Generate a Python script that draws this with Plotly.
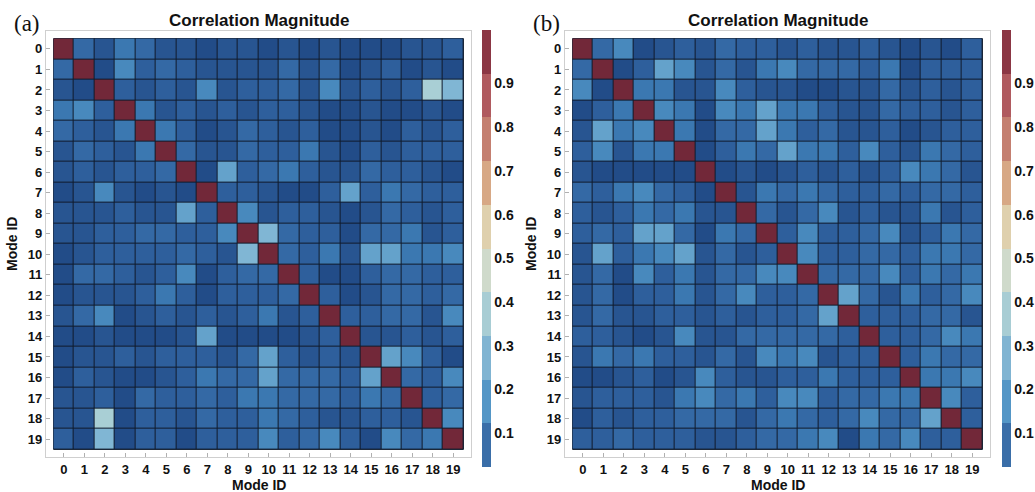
import plotly.graph_objects as go

W, H = 1035, 492

mode_ids = list(range(20))
tick_labels = [str(i) for i in mode_ids]
colorbar_ticks = [0.1, 0.2, 0.3, 0.4, 0.5, 0.6, 0.7, 0.8, 0.9]
panel_labels = ["(a)", "(b)"]
panel_title = "Correlation Magnitude"
axis_title = "Mode ID"

# |correlation| between modes, rows = mode i, columns = mode j
corr_a = [
    [1.00, 0.10, 0.04, 0.13, 0.10, 0.04, 0.04, 0.02, 0.04, 0.04, 0.02, 0.04, 0.02, 0.04, 0.02, 0.02, 0.02, 0.04, 0.04, 0.07],
    [0.10, 1.00, 0.02, 0.17, 0.07, 0.10, 0.07, 0.04, 0.04, 0.04, 0.04, 0.10, 0.04, 0.10, 0.02, 0.04, 0.07, 0.02, 0.04, 0.02],
    [0.04, 0.02, 1.00, 0.07, 0.04, 0.07, 0.04, 0.17, 0.04, 0.07, 0.07, 0.10, 0.04, 0.17, 0.04, 0.07, 0.04, 0.07, 0.35, 0.28],
    [0.13, 0.17, 0.07, 1.00, 0.13, 0.04, 0.07, 0.04, 0.07, 0.04, 0.07, 0.07, 0.04, 0.02, 0.02, 0.04, 0.02, 0.02, 0.04, 0.02],
    [0.10, 0.07, 0.04, 0.13, 1.00, 0.13, 0.07, 0.02, 0.04, 0.10, 0.07, 0.04, 0.07, 0.02, 0.02, 0.04, 0.02, 0.07, 0.04, 0.07],
    [0.04, 0.10, 0.07, 0.04, 0.13, 1.00, 0.10, 0.04, 0.04, 0.10, 0.07, 0.07, 0.13, 0.04, 0.02, 0.07, 0.04, 0.07, 0.07, 0.07],
    [0.04, 0.07, 0.04, 0.07, 0.07, 0.10, 1.00, 0.02, 0.22, 0.07, 0.10, 0.13, 0.07, 0.04, 0.04, 0.10, 0.07, 0.07, 0.04, 0.02],
    [0.02, 0.04, 0.17, 0.04, 0.02, 0.04, 0.02, 1.00, 0.07, 0.07, 0.04, 0.02, 0.02, 0.07, 0.22, 0.07, 0.13, 0.10, 0.07, 0.07],
    [0.04, 0.04, 0.04, 0.07, 0.04, 0.04, 0.22, 0.07, 1.00, 0.17, 0.04, 0.07, 0.07, 0.04, 0.02, 0.04, 0.10, 0.07, 0.04, 0.07],
    [0.04, 0.04, 0.07, 0.07, 0.10, 0.10, 0.07, 0.07, 0.17, 1.00, 0.28, 0.10, 0.07, 0.07, 0.02, 0.10, 0.10, 0.13, 0.04, 0.07],
    [0.02, 0.04, 0.07, 0.07, 0.07, 0.07, 0.10, 0.07, 0.04, 0.28, 1.00, 0.10, 0.07, 0.13, 0.04, 0.22, 0.22, 0.13, 0.13, 0.17],
    [0.02, 0.10, 0.10, 0.07, 0.04, 0.07, 0.17, 0.02, 0.07, 0.10, 0.10, 1.00, 0.07, 0.02, 0.02, 0.07, 0.10, 0.10, 0.07, 0.07],
    [0.02, 0.04, 0.04, 0.04, 0.07, 0.13, 0.07, 0.02, 0.07, 0.07, 0.07, 0.10, 1.00, 0.07, 0.02, 0.04, 0.10, 0.10, 0.07, 0.10],
    [0.04, 0.10, 0.17, 0.02, 0.04, 0.07, 0.04, 0.07, 0.04, 0.07, 0.13, 0.04, 0.07, 1.00, 0.07, 0.07, 0.10, 0.10, 0.04, 0.17],
    [0.02, 0.02, 0.04, 0.02, 0.02, 0.02, 0.04, 0.22, 0.02, 0.02, 0.02, 0.02, 0.04, 0.07, 1.00, 0.04, 0.04, 0.07, 0.04, 0.07],
    [0.02, 0.04, 0.04, 0.07, 0.04, 0.07, 0.07, 0.07, 0.04, 0.10, 0.22, 0.07, 0.04, 0.07, 0.04, 1.00, 0.22, 0.17, 0.07, 0.02],
    [0.02, 0.07, 0.04, 0.02, 0.02, 0.04, 0.07, 0.13, 0.10, 0.10, 0.22, 0.10, 0.10, 0.10, 0.07, 0.22, 1.00, 0.10, 0.07, 0.17],
    [0.04, 0.04, 0.07, 0.02, 0.10, 0.07, 0.07, 0.10, 0.07, 0.13, 0.13, 0.10, 0.10, 0.10, 0.07, 0.13, 0.10, 1.00, 0.07, 0.10],
    [0.04, 0.04, 0.35, 0.02, 0.07, 0.07, 0.04, 0.10, 0.07, 0.07, 0.13, 0.10, 0.07, 0.04, 0.04, 0.07, 0.07, 0.04, 1.00, 0.17],
    [0.07, 0.02, 0.28, 0.02, 0.07, 0.07, 0.02, 0.07, 0.07, 0.07, 0.17, 0.07, 0.10, 0.17, 0.07, 0.02, 0.17, 0.10, 0.13, 1.00],
]

corr_b = [
    [1.00, 0.10, 0.17, 0.02, 0.04, 0.07, 0.04, 0.10, 0.07, 0.07, 0.04, 0.07, 0.04, 0.04, 0.07, 0.04, 0.02, 0.04, 0.02, 0.07],
    [0.10, 1.00, 0.02, 0.07, 0.22, 0.17, 0.04, 0.10, 0.04, 0.13, 0.17, 0.10, 0.10, 0.10, 0.07, 0.13, 0.02, 0.07, 0.07, 0.07],
    [0.17, 0.02, 1.00, 0.13, 0.13, 0.04, 0.04, 0.17, 0.07, 0.04, 0.04, 0.02, 0.02, 0.04, 0.04, 0.10, 0.04, 0.07, 0.04, 0.07],
    [0.02, 0.07, 0.13, 1.00, 0.17, 0.13, 0.02, 0.17, 0.13, 0.22, 0.13, 0.13, 0.07, 0.04, 0.04, 0.10, 0.07, 0.07, 0.04, 0.07],
    [0.04, 0.22, 0.13, 0.17, 1.00, 0.13, 0.02, 0.10, 0.10, 0.22, 0.13, 0.07, 0.10, 0.04, 0.04, 0.07, 0.02, 0.04, 0.07, 0.07],
    [0.07, 0.17, 0.04, 0.13, 0.13, 1.00, 0.02, 0.07, 0.13, 0.10, 0.22, 0.13, 0.13, 0.07, 0.17, 0.07, 0.04, 0.13, 0.10, 0.07],
    [0.04, 0.02, 0.02, 0.02, 0.02, 0.02, 1.00, 0.02, 0.04, 0.02, 0.04, 0.07, 0.04, 0.07, 0.04, 0.07, 0.17, 0.13, 0.10, 0.04],
    [0.10, 0.07, 0.13, 0.17, 0.10, 0.07, 0.02, 1.00, 0.04, 0.13, 0.10, 0.13, 0.10, 0.07, 0.07, 0.10, 0.07, 0.10, 0.10, 0.07],
    [0.07, 0.04, 0.07, 0.13, 0.10, 0.13, 0.04, 0.04, 1.00, 0.10, 0.04, 0.10, 0.17, 0.04, 0.07, 0.04, 0.04, 0.13, 0.04, 0.07],
    [0.07, 0.10, 0.07, 0.22, 0.22, 0.10, 0.02, 0.13, 0.10, 1.00, 0.07, 0.17, 0.07, 0.07, 0.10, 0.17, 0.04, 0.07, 0.13, 0.10],
    [0.04, 0.22, 0.07, 0.13, 0.17, 0.22, 0.04, 0.10, 0.04, 0.07, 1.00, 0.17, 0.07, 0.07, 0.10, 0.10, 0.07, 0.13, 0.13, 0.10],
    [0.04, 0.10, 0.02, 0.17, 0.07, 0.13, 0.04, 0.10, 0.10, 0.17, 0.17, 1.00, 0.10, 0.10, 0.10, 0.17, 0.07, 0.13, 0.10, 0.13],
    [0.04, 0.10, 0.02, 0.07, 0.07, 0.13, 0.04, 0.10, 0.17, 0.07, 0.07, 0.10, 1.00, 0.22, 0.10, 0.04, 0.13, 0.07, 0.10, 0.17],
    [0.04, 0.10, 0.04, 0.04, 0.07, 0.07, 0.04, 0.07, 0.04, 0.07, 0.07, 0.10, 0.22, 1.00, 0.07, 0.07, 0.07, 0.10, 0.10, 0.04],
    [0.07, 0.07, 0.04, 0.02, 0.04, 0.17, 0.04, 0.04, 0.10, 0.10, 0.10, 0.10, 0.10, 0.07, 1.00, 0.07, 0.07, 0.10, 0.17, 0.13],
    [0.04, 0.13, 0.10, 0.13, 0.07, 0.07, 0.04, 0.10, 0.04, 0.17, 0.13, 0.17, 0.04, 0.07, 0.07, 1.00, 0.07, 0.13, 0.10, 0.10],
    [0.02, 0.02, 0.04, 0.07, 0.02, 0.04, 0.17, 0.07, 0.04, 0.04, 0.07, 0.07, 0.13, 0.07, 0.07, 0.07, 1.00, 0.13, 0.13, 0.17],
    [0.04, 0.07, 0.07, 0.07, 0.04, 0.13, 0.17, 0.10, 0.13, 0.07, 0.17, 0.17, 0.07, 0.10, 0.10, 0.13, 0.13, 1.00, 0.17, 0.07],
    [0.02, 0.07, 0.04, 0.07, 0.07, 0.10, 0.10, 0.10, 0.04, 0.10, 0.13, 0.10, 0.07, 0.10, 0.17, 0.10, 0.10, 0.22, 1.00, 0.07],
    [0.07, 0.07, 0.10, 0.07, 0.07, 0.07, 0.04, 0.04, 0.07, 0.10, 0.10, 0.13, 0.17, 0.02, 0.13, 0.10, 0.17, 0.07, 0.07, 1.00],
]

# smooth scale used to shade the cells
cell_scale = [
    [0.00, "#1d4482"], [0.02, "#224c88"], [0.04, "#285591"], [0.07, "#2e5f9c"],
    [0.10, "#3469a5"], [0.13, "#3b78b1"], [0.17, "#4889bd"], [0.22, "#64a2cb"],
    [0.28, "#80b6d4"], [0.35, "#a9cfd5"], [0.45, "#d0dcc9"], [0.55, "#e0d2ad"],
    [0.65, "#d9a987"], [0.75, "#c77e6e"], [0.85, "#b05a5d"], [0.95, "#8a3444"],
    [1.00, "#722839"],
]

# banded scale shown in the colour bars (ten steps of 0.1)
band_colors = ["#3a6ea8", "#5496c6", "#80b4d2", "#a8cdd4", "#cfdacb",
               "#dfd0ad", "#d7a885", "#c47f70", "#b05a5f", "#8b3644"]
band_scale = []
for i, c in enumerate(band_colors):
    band_scale.append([i / 10, c])
    band_scale.append([(i + 1) / 10, c])

FONT = "Liberation Sans, Arial, sans-serif"

# pixel geometry of each panel frame
frames = [(46, 471), (565, 990)]
top_px, bottom_px = 31, 457
cbar_x = [482, 1002]
pad = 0.37


def label(text, px, py, size, family=FONT, angle=0):
    fig.add_annotation(text=text, x=px / W, y=1 - py / H, xref="paper", yref="paper",
                       xanchor="center", yanchor="middle", showarrow=False, textangle=angle,
                       font=dict(family=family, size=size, color="#111111"))


fig = go.Figure()

for k, (z, (fl, fr)) in enumerate(zip([corr_a, corr_b], frames)):
    xa = "x" if k == 0 else "x2"
    ya = "y" if k == 0 else "y2"
    fig.add_trace(go.Heatmap(
        z=z, x=mode_ids, y=mode_ids,
        zmin=0, zmax=1, colorscale=cell_scale, showscale=False,
        xgap=1, ygap=1, xaxis=xa, yaxis=ya,
        hovertemplate="mode %{y} / mode %{x}: %{z:.2f}<extra></extra>",
    ))
    # colour bar carried by an empty marker trace
    fig.add_trace(go.Scatter(
        x=[None], y=[None], mode="markers", xaxis=xa, yaxis=ya,
        showlegend=False, hoverinfo="skip",
        marker=dict(
            color=[0.5], cmin=0, cmax=1, colorscale=band_scale, showscale=True,
            colorbar=dict(
                x=cbar_x[k] / W, xanchor="left", xpad=0,
                y=1 - 30 / H, yanchor="top", ypad=0,
                lenmode="pixels", len=437, thickness=9,
                outlinewidth=0,
                tickmode="array", tickvals=colorbar_ticks,
                ticktext=[f"{v:.1f}" for v in colorbar_ticks],
                ticks="", ticklabelposition="outside bottom",
                tickfont=dict(family=FONT, size=14, color="#111111", weight="bold"),
            ),
        ),
    ))
    # dark backing that shows through the cell gaps as grid lines
    fig.add_shape(type="rect", xref=xa, yref=ya, x0=-0.5, x1=19.5, y0=-0.5, y1=19.5,
                  fillcolor="#101b2c", line=dict(color="#101b2c", width=1), layer="below")

    cx = (fl + fr) / 2
    label(f"<b>{panel_title}</b>", cx, 20, 17)
    label(panel_labels[k], fl - 19, 23, 23, family="Liberation Serif, Times New Roman, serif")
    label(f"<b>{axis_title}</b>", cx, 485, 14)
    label(f"<b>{axis_title}</b>", fl - 34, 244, 14, angle=-90)

axis_common = dict(
    showgrid=False, zeroline=False, showline=True, mirror=True,
    linecolor="#cfcfcf", linewidth=1.2,
    ticks="inside", ticklen=4, tickcolor="#b0b0b0",
    tickmode="array", tickvals=mode_ids, ticktext=tick_labels,
    tickfont=dict(family=FONT, size=13, color="#111111", weight="bold"),
)

ydom = [1 - bottom_px / H, 1 - top_px / H]
fig.update_layout(
    width=W, height=H,
    margin=dict(l=0, r=0, t=0, b=0),
    paper_bgcolor="white", plot_bgcolor="white",
    showlegend=False,
    xaxis=dict(domain=[frames[0][0] / W, frames[0][1] / W], range=[-0.5 - pad, 19.5 + pad],
               anchor="y", **axis_common),
    yaxis=dict(domain=ydom, range=[19.5 + pad, -0.5 - pad], anchor="x", **axis_common),
    xaxis2=dict(domain=[frames[1][0] / W, frames[1][1] / W], range=[-0.5 - pad, 19.5 + pad],
                anchor="y2", **axis_common),
    yaxis2=dict(domain=ydom, range=[19.5 + pad, -0.5 - pad], anchor="x2", **axis_common),
)

fig.write_html("out.html")
